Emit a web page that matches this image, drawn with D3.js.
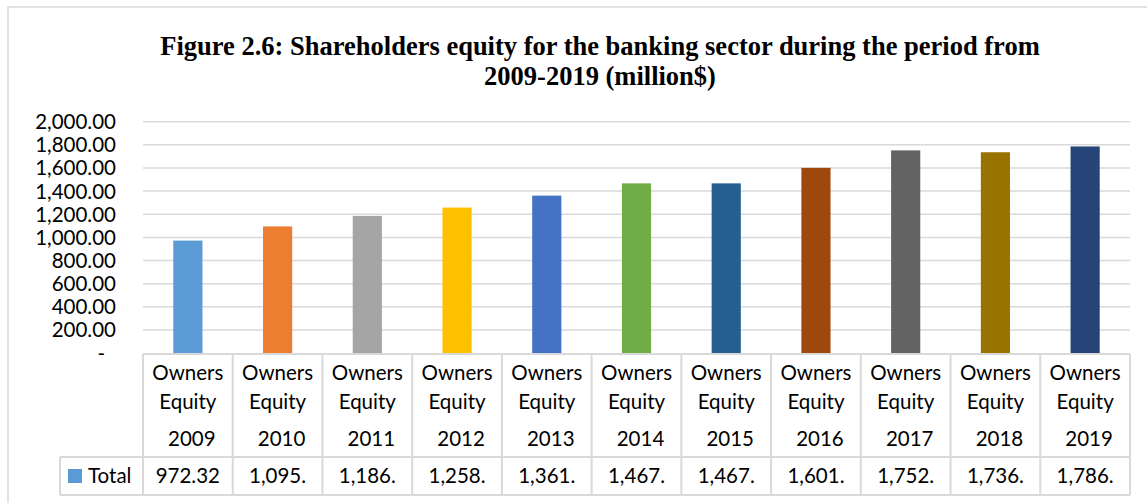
<!DOCTYPE html>
<html>
<head>
<meta charset="utf-8">
<script src="https://cdn.jsdelivr.net/npm/d3@7"></script>
<style>
  html, body { margin: 0; padding: 0; background: #fff; }
  svg { display: block; }
</style>
</head>
<body>
<svg id="chart" width="1147" height="503"></svg>
<script>
// ---- data ----
const categoryLine1 = "Owners";
const categoryLine2 = "Equity";
const years = ["2009","2010","2011","2012","2013","2014","2015","2016","2017","2018","2019"];
const values = [972.32, 1095, 1186, 1258, 1361, 1467, 1467, 1601, 1752, 1736, 1786];
const tableLabels = ["972.32","1,095.","1,186.","1,258.","1,361.","1,467.","1,467.","1,601.","1,752.","1,736.","1,786."];
const yTicks = [0, 200, 400, 600, 800, 1000, 1200, 1400, 1600, 1800, 2000];
const barColors = ["#5B9BD5","#ED7D31","#A5A5A5","#FFC000","#4472C4","#70AD47","#255E91","#9E480E","#636363","#997300","#264478"];
const seriesName = "Total";
const titleLines = ["Figure 2.6: Shareholders equity for the banking sector during the period from", "2009-2019 (million$)"];

// ---- layout ----
const svg = d3.select("#chart");
const plotLeft = 143, plotRight = 1130, plotTop = 121.7, plotBottom = 353.1;
const tableTop = 354, rowSplit = 457, tableBottom = 495, legendLeft = 60;
const gridColor = "#d9d9d9";
const font = "Lato, 'Open Sans', sans-serif";

// outer frame
svg.append("rect").attr("x", 8).attr("y", 7).attr("width", 1200).attr("height", 600)
  .attr("fill", "none").attr("stroke", "#d9d9d9").attr("stroke-width", 1.5);

// title
const title = svg.append("text").attr("text-anchor", "middle")
  .attr("font-family", "'Liberation Serif', 'Times New Roman', serif")
  .attr("font-weight", "bold").attr("font-size", 26.5).attr("fill", "#000");
titleLines.forEach((t, i) => {
  title.append("tspan").attr("x", 600).attr("y", 55 + i * 30).text(t);
});

const x = d3.scaleBand().domain(years).range([plotLeft, plotRight]).paddingInner(0).paddingOuter(0);
const y = d3.scaleLinear().domain([0, 2000]).range([plotBottom, plotTop]);

// gridlines
svg.append("g").selectAll("line").data(yTicks.filter(d => d > 0)).join("line")
  .attr("x1", plotLeft).attr("x2", plotRight)
  .attr("y1", d => y(d)).attr("y2", d => y(d))
  .attr("stroke", gridColor).attr("stroke-width", 1.5);

// y axis labels via d3 axis
const fmt = d => d === 0 ? "-" : d3.format(",.2f")(d);
const yAxis = svg.append("g").attr("transform", `translate(${116},0)`)
  .call(d3.axisLeft(y).tickValues(yTicks).tickFormat(fmt).tickSize(0).tickPadding(0));
yAxis.select(".domain").remove();
yAxis.selectAll("text").attr("font-family", font).attr("font-size", 20.5).attr("fill", "#000")
  .attr("dy", "0.34em");
yAxis.selectAll(".tick").filter(d => d === 0).select("text").attr("dx", -11);

// bars
const barW = x.bandwidth() * 0.325;
svg.append("g").selectAll("rect").data(values).join("rect")
  .attr("x", (d, i) => x(years[i]) + x.bandwidth() / 2 - barW / 2)
  .attr("width", barW)
  .attr("y", d => y(d))
  .attr("height", d => y(0) - y(d))
  .attr("fill", (d, i) => barColors[i]);

// data table
const tg = svg.append("g").attr("stroke", gridColor).attr("stroke-width", 2).attr("fill", "none");
tg.append("line").attr("x1", plotLeft).attr("x2", plotRight).attr("y1", tableTop).attr("y2", tableTop);
tg.append("line").attr("x1", legendLeft).attr("x2", plotRight).attr("y1", rowSplit).attr("y2", rowSplit);
tg.append("line").attr("x1", legendLeft).attr("x2", plotRight).attr("y1", tableBottom).attr("y2", tableBottom);
tg.append("line").attr("x1", legendLeft).attr("x2", legendLeft).attr("y1", rowSplit).attr("y2", tableBottom);
tg.selectAll("line.v").data(years.concat(["end"])).join("line").attr("class", "v")
  .attr("x1", (d, i) => i < years.length ? x(d) : plotRight)
  .attr("x2", (d, i) => i < years.length ? x(d) : plotRight)
  .attr("y1", tableTop).attr("y2", tableBottom);

const txt = svg.append("g").attr("font-family", font).attr("font-size", 20.5).attr("fill", "#000")
  .attr("text-anchor", "middle");
years.forEach((yr, i) => {
  const cx = x(yr) + x.bandwidth() / 2;
  txt.append("text").attr("x", cx).attr("y", 380).text(categoryLine1);
  txt.append("text").attr("x", cx).attr("y", 409).text(categoryLine2);
  txt.append("text").attr("x", cx + 4).attr("y", 446).text(yr);
  txt.append("text").attr("x", cx).attr("y", 483).text(tableLabels[i]);
});

// legend key in table
svg.append("rect").attr("x", 68).attr("y", 469).attr("width", 14).attr("height", 14).attr("fill", barColors[0]);
svg.append("text").attr("x", 88).attr("y", 483).attr("font-family", font).attr("font-size", 20.5)
  .attr("fill", "#000").text(seriesName);
</script>
</body>
</html>
